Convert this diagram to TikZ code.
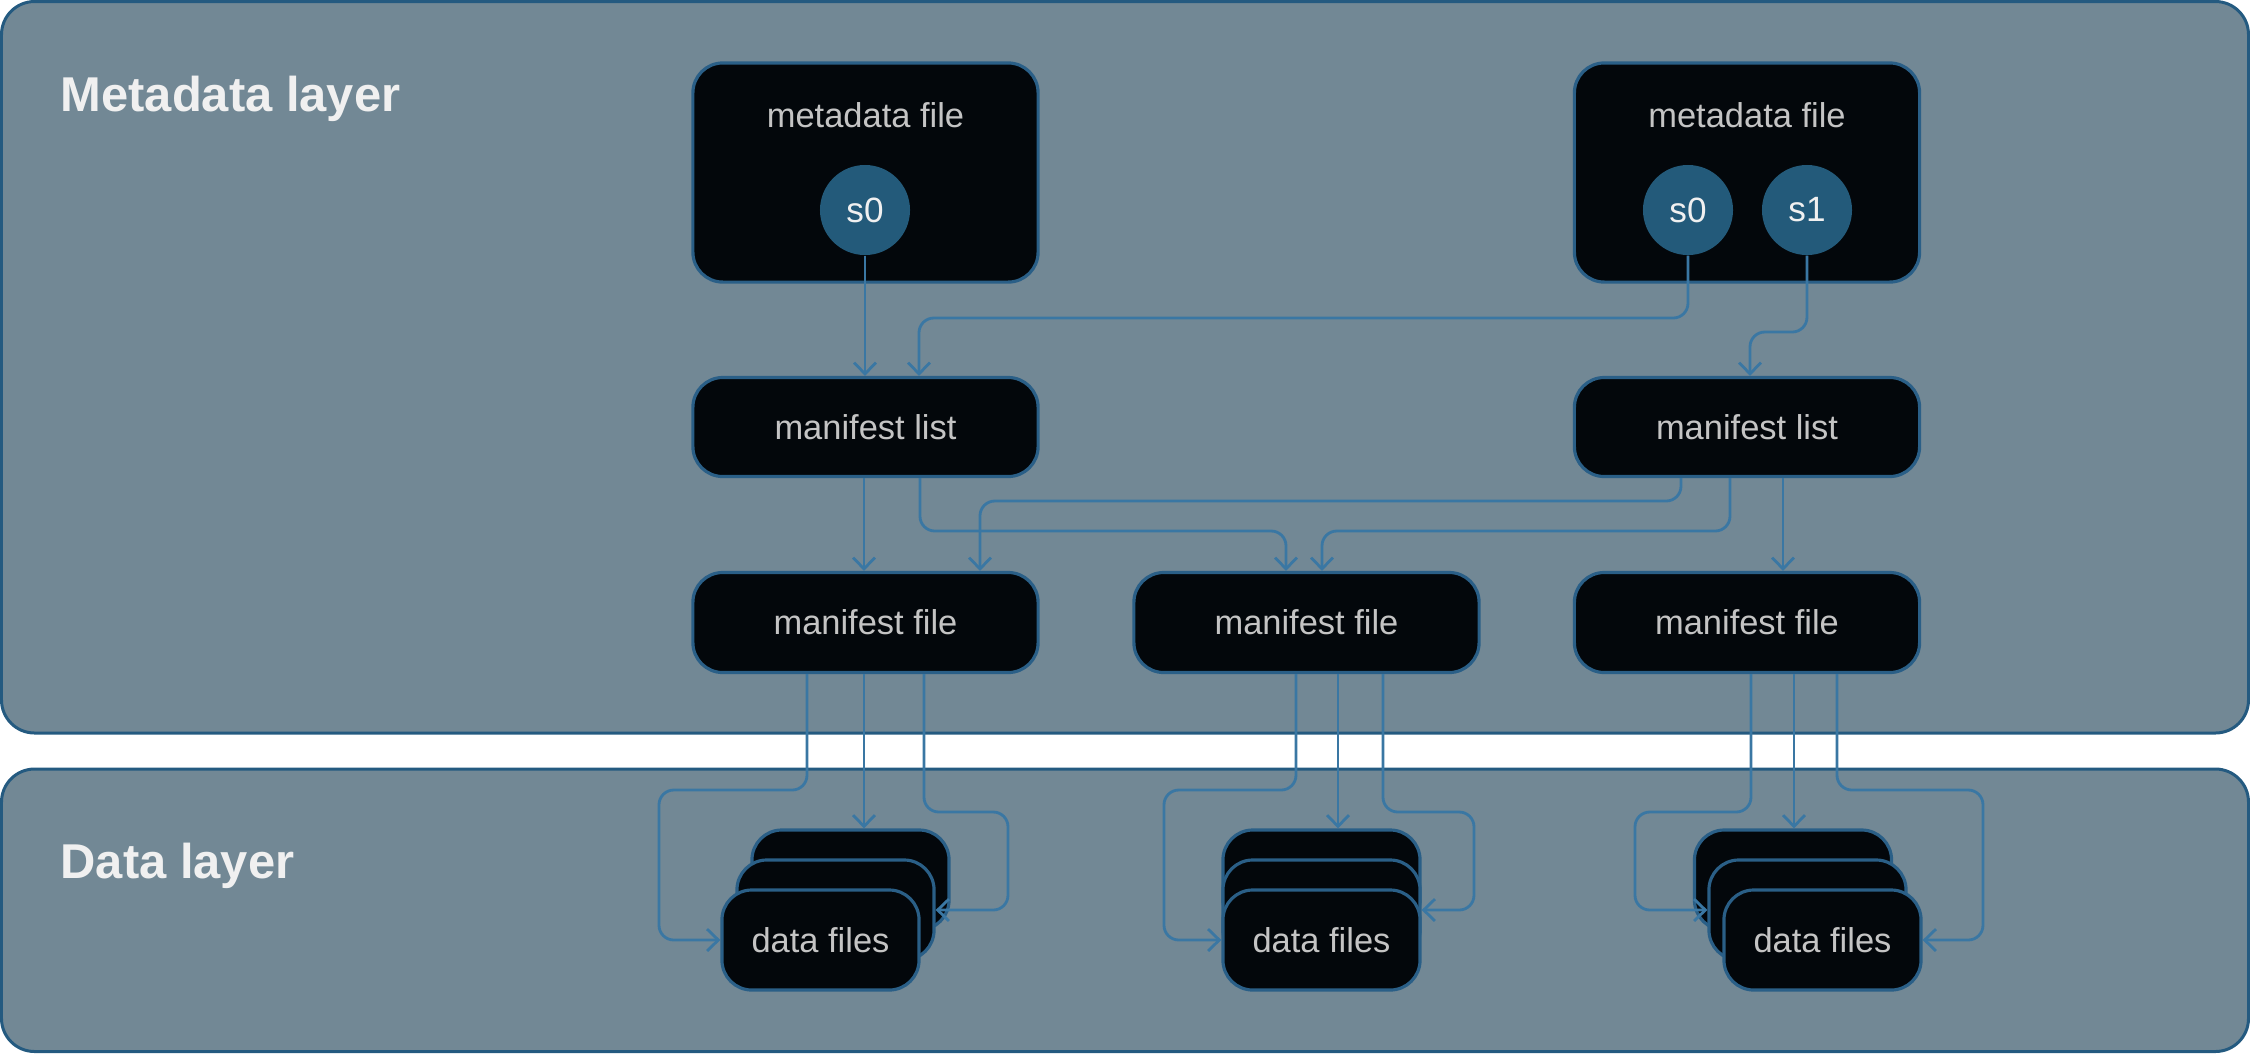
\documentclass[tikz,border=0pt]{standalone}
\usepackage{fontspec}
\setmainfont{Liberation Sans}
\usepackage{xcolor}
\usetikzlibrary{arrows.meta}

\definecolor{layerfill}{HTML}{728895}
\definecolor{layerline}{HTML}{245A80}
\definecolor{boxfill}{HTML}{03070B}
\definecolor{boxline}{HTML}{2A5F87}
\definecolor{snapfill}{HTML}{235A7A}
\definecolor{flowline}{HTML}{3A77A3}
\definecolor{labeltext}{HTML}{C4C4C4}
\definecolor{titletext}{HTML}{F0F0F0}

\begin{document}
\begin{tikzpicture}[x=0.01cm,y=-0.01cm,
  layer/.style={fill=layerfill,draw=layerline,line width=0.85pt,rounded corners=9.4pt},
  title/.style={anchor=base west,inner sep=0pt,text=titletext,font=\fontsize{13.9}{16}\selectfont\bfseries},
  filebox/.style={draw=boxline,fill=boxfill,line width=0.9pt,rounded corners=8.5pt,inner sep=0pt,
    minimum width=3.45cm,text=labeltext,font=\fontsize{9.8}{12}\selectfont},
  databox/.style={filebox,minimum width=1.97cm,minimum height=1.0cm},
  boxtext/.style={inner sep=0pt,text=labeltext,font=\fontsize{9.8}{12}\selectfont},
  snap/.style={circle,fill=snapfill,minimum size=0.9cm,inner sep=0pt,text=titletext,font=\fontsize{10}{12}\selectfont},
  flow/.style={draw=flowline,line width=0.8pt,rounded corners=4.2pt,-{Straight Barb[length=3.2pt,width=6.2pt]}}]

  \useasboundingbox (0,0) rectangle (2250,1053);

  %レイヤー
  \draw[layer] (1.5,1.5) rectangle (2248.5,733);
  \draw[layer] (1.5,769) rectangle (2248.5,1051.5);
  \node[title] (metatitle) at (60,111) {Metadata layer};
  \node[title] (datatitle) at (60,878) {Data layer};

  %メタデータファイル
  \node[filebox,minimum height=2.19cm] (mdA) at (865.5,172.5) {};
  \node[filebox,minimum height=2.19cm] (mdB) at (1747,172.5) {};
  \node[boxtext] (mdAtxt) at (865.5,115) {metadata file};
  \node[boxtext] (mdBtxt) at (1747,115) {metadata file};
  \node[snap] (mdAs0) at (865,210) {s0};
  \node[snap] (mdBs0) at (1688,210) {s0};
  \node[snap] (mdBs1) at (1807,210) {s1};

  %マニフェストリスト
  \node[filebox,minimum height=0.99cm] (mlA) at (865.5,427) {manifest list};
  \node[filebox,minimum height=0.99cm] (mlB) at (1747,427) {manifest list};

  %マニフェストファイル
  \node[filebox,minimum height=1.0cm] (mfA) at (865.5,622.5) {manifest file};
  \node[filebox,minimum height=1.0cm] (mfB) at (1306.5,622.5) {manifest file};
  \node[filebox,minimum height=1.0cm] (mfC) at (1747,622.5) {manifest file};

  %データファイル
  \node[databox] (dfAback) at (850.5,880) {};
  \node[databox] (dfAmid) at (835.5,910) {};
  \node[databox] (dfAfront) at (820.5,940) {data files};

  \node[databox] (dfBback) at (1321.5,880) {};
  \node[databox] (dfBmid) at (1321.5,910) {};
  \node[databox] (dfBfront) at (1321.5,940) {data files};

  \node[databox] (dfCback) at (1793,880) {};
  \node[databox] (dfCmid) at (1807.5,910) {};
  \node[databox] (dfCfront) at (1822.5,940) {data files};

  %矢印(メタデータ)
  \draw[flow] (mdAs0.south) -- (865,0 |- mlA.north);
  \draw[flow] (mdBs0.south) |- (919,318) -- (919,0 |- mlA.north);
  \draw[flow] (mdBs1.south) |- (1750,332) -- (1750,0 |- mlB.north);

  \draw[flow] (864,0 |- mlA.south) -- (864,0 |- mfA.north);
  \draw[flow] (920,0 |- mlA.south) |- (1286,531) -- (1286,0 |- mfB.north);
  \draw[flow] (1681,0 |- mlB.south) |- (980,501) -- (980,0 |- mfA.north);
  \draw[flow] (1730,0 |- mlB.south) |- (1322,531) -- (1322,0 |- mfB.north);
  \draw[flow] (1783,0 |- mlB.south) -- (1783,0 |- mfC.north);

  %矢印(データ)
  \draw[flow] (807,0 |- mfA.south) |- (659,790) |- (dfAfront.west);
  \draw[flow] (864,0 |- mfA.south) -- (864,0 |- dfAback.north);
  \draw[flow] (924,0 |- mfA.south) |- (1008,812) |- (dfAmid.east);

  \draw[flow] (1296,0 |- mfB.south) |- (1164,790) |- (dfBfront.west);
  \draw[flow] (1338,0 |- mfB.south) -- (1338,0 |- dfBback.north);
  \draw[flow] (1383,0 |- mfB.south) |- (1474,812) |- (dfBmid.east);

  \draw[flow] (1751,0 |- mfC.south) |- (1635,812) |- (dfCmid.west);
  \draw[flow] (1794,0 |- mfC.south) -- (1794,0 |- dfCback.north);
  \draw[flow] (1837,0 |- mfC.south) |- (1983,790) |- (dfCfront.east);
\end{tikzpicture}
\end{document}
